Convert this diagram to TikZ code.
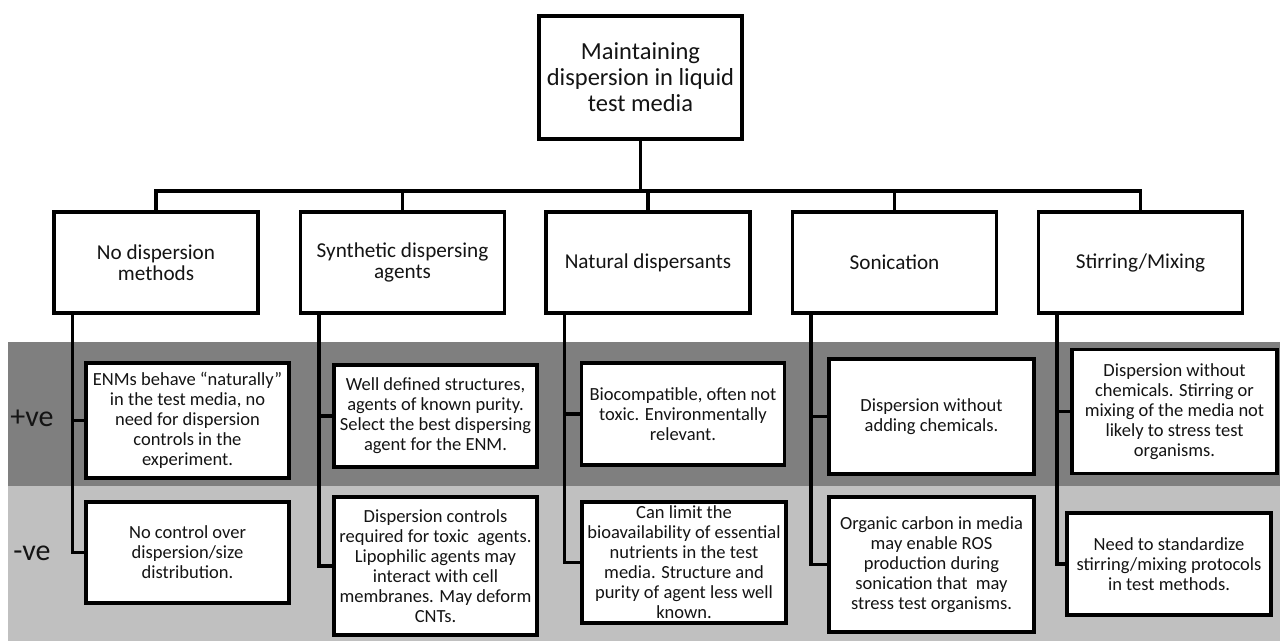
\documentclass[tikz,border=0pt]{standalone}
\usepackage{fontspec}
\setmainfont{Carlito}
\definecolor{darkband}{RGB}{127,127,127}
\definecolor{lightband}{RGB}{192,192,192}
\definecolor{inkblack}{RGB}{20,20,20}
\tikzset{
  box/.style={draw=black, line width=3.3pt, fill=white, inner sep=0pt, align=center, text=inkblack},
  topbox/.style={box, font=\fontsize{24.5}{26}\selectfont},
  catbox/.style={box, font=\fontsize{21.2}{21.5}\selectfont},
  tbox/.style={box, font=\fontsize{18.5}{20}\selectfont},
  conn/.style={draw=black, line width=3.3pt},
  bandlabel/.style={font=\fontsize{30}{32}\selectfont, inner sep=0pt, text=inkblack}
}
\begin{document}
\begin{tikzpicture}[x=1pt, y=-1pt]
\useasboundingbox (0,0) rectangle (1280,641);
% bands
\fill[darkband] (8,342) rectangle (1280,486);
\fill[lightband] (8,486) rectangle (1280,641);
\node[bandlabel] (plus) at (32,418) {+ve};
\node[bandlabel] (minus) at (32,553) {-ve};

% top
\node[topbox, minimum width=203pt, minimum height=123pt] (top) at (640.5,77.5)
  {Maintaining\\dispersion in liquid\\test media};

% categories
\node[catbox, minimum width=204pt, minimum height=101pt] (c1) at (156,262.5) {No dispersion\\methods};
\node[catbox, minimum width=204pt, minimum height=101pt] (c2) at (402.5,262.5) {Synthetic dispersing\\agents};
\node[catbox, minimum width=204pt, minimum height=101pt] (c3) at (648,262.5) {Natural dispersants};
\node[catbox, minimum width=204pt, minimum height=101pt] (c4) at (894.5,262.5) {Sonication};
\node[catbox, minimum width=204pt, minimum height=101pt] (c5) at (1140.5,262.5) {Stirring/Mixing};

\coordinate (hb) at (640.5,191);
\draw[conn] (top.south) -- (hb);
\foreach \c in {c1,c2,c3,c4,c5} {\draw[conn] (\c.north) |- (hb);}

% pro/con boxes
\node[tbox, minimum width=203pt, minimum height=115pt] (p1) at (187.5,420.5)
  {ENMs behave “naturally”\\in the test media, no\\need for dispersion\\controls in the\\experiment.};
\node[tbox, minimum width=203pt, minimum height=101pt] (n1) at (187.5,552.5)
  {No control over\\dispersion/size\\distribution.};
\node[tbox, minimum width=203pt, minimum height=102pt] (p2) at (435.5,416)
  {Well defined structures,\\agents of known purity.\\Select the best dispersing\\agent for the ENM.};
\node[tbox, minimum width=203pt, minimum height=138pt] (n2) at (435.5,566)
  {Dispersion controls\\required for toxic~ agents.\\Lipophilic agents may\\interact with cell\\membranes. May deform\\CNTs.};
\node[tbox, minimum width=203pt, minimum height=102pt] (p3) at (683,414)
  {Biocompatible, often not\\toxic. Environmentally\\relevant.};
\node[tbox, minimum width=204pt, minimum height=121pt] (n3) at (684,562.5)
  {Can limit the\\bioavailability of essential\\nutrients in the test\\media. Structure and\\purity of agent less well\\known.};
\node[tbox, minimum width=205pt, minimum height=115pt] (p4) at (931.5,416.5)
  {Dispersion without\\adding chemicals.};
\node[tbox, minimum width=205pt, minimum height=135pt] (n4) at (931.5,564.5)
  {Organic carbon in media\\may enable ROS\\production during\\sonication that~ may\\stress test organisms.};
\node[tbox, minimum width=205pt, minimum height=124pt] (p5) at (1174.5,411.5)
  {Dispersion without\\chemicals. Stirring or\\mixing of the media not\\likely to stress test\\organisms.};
\node[tbox, minimum width=204pt, minimum height=102pt] (n5) at (1169,564)
  {Need to standardize\\stirring/mixing protocols\\in test methods.};

% spines
\foreach \i in {1,...,5} {
  \draw[conn] ([xshift=20pt]c\i.south west) |- (p\i.west);
  \draw[conn] ([xshift=20pt]c\i.south west) |- (n\i.west);
}
\end{tikzpicture}
\end{document}
